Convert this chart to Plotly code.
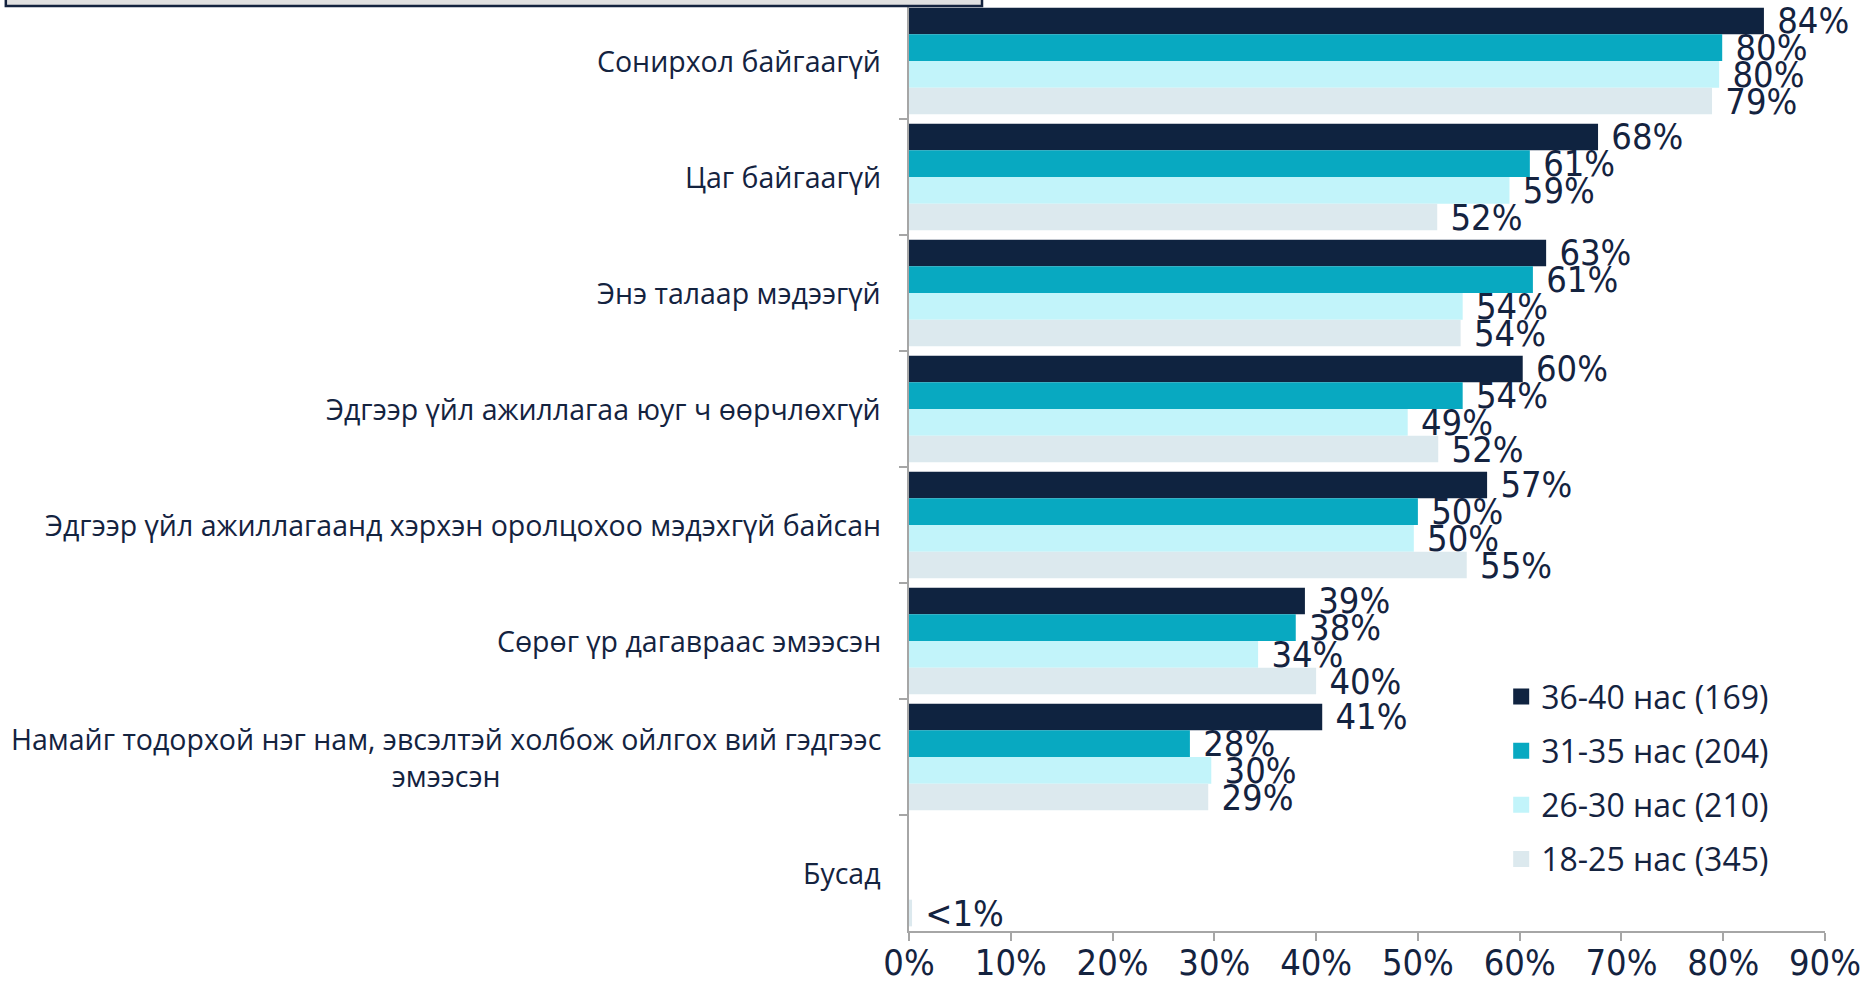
import plotly.graph_objects as go

# ---------- data ----------
categories = [
    "Сонирхол байгаагүй",
    "Цаг байгаагүй",
    "Энэ талаар мэдээгүй",
    "Эдгээр үйл ажиллагаа юуг ч өөрчлөхгүй",
    "Эдгээр үйл ажиллагаанд хэрхэн оролцохоо мэдэхгүй байсан",
    "Сөрөг үр дагавраас эмээсэн",
    "Намайг тодорхой нэг нам, эвсэлтэй холбож ойлгох вий гэдгээс<br>эмээсэн",
    "Бусад",
]
groups = ["36-40 нас (169)", "31-35 нас (204)", "26-30 нас (210)", "18-25 нас (345)"]

age_36_40 = [84.0, 67.7, 62.6, 60.3, 56.8, 38.9, 40.6, None]
age_31_35 = [79.9, 61.0, 61.3, 54.4, 50.0, 38.0, 27.6, None]
age_26_30 = [79.6, 59.0, 54.4, 49.0, 49.6, 34.3, 29.7, None]
age_18_25 = [78.9, 51.9, 54.2, 52.0, 54.8, 40.0, 29.4, 0.3]

x_ticks = [0, 10, 20, 30, 40, 50, 60, 70, 80, 90]
x_ticktext = ["0%", "10%", "20%", "30%", "40%", "50%", "60%", "70%", "80%", "90%"]

colors = ["#0F2340", "#08A9C1", "#C2F4FA", "#DCE9EE"]
txt_col = "#14233F"
axis_col = "#A6A6A6"
NARROW = "DejaVu Sans Condensed, Liberation Sans Narrow, sans-serif"
REG = "Open Sans, Noto Sans, sans-serif"


def etiqueta(v):
    if v is None:
        return ""
    if v < 1:
        return "\u00a0<1%"
    return "\u00a0" + f"{v:.0f}%"


fig = go.Figure()
series = [age_36_40, age_31_35, age_26_30, age_18_25]
for i, (name, vals) in enumerate(zip(groups, series)):
    fig.add_trace(go.Bar(
        y=categories, x=vals, orientation="h", name=name,
        marker=dict(color=colors[i], line=dict(width=0)),
        text=[etiqueta(v) for v in vals], textposition="outside",
        textfont=dict(family=NARROW, size=36, color=txt_col),
        constraintext="none", cliponaxis=False, showlegend=False,
    ))
    # legend swatch (bigger square than the bar default)
    fig.add_trace(go.Scatter(
        x=[None], y=[None], mode="markers", name=name, legendgroup=name,
        marker=dict(symbol="square", size=16, color=colors[i]),
    ))

# category labels, centred lines like the original
for c in categories:
    fig.add_annotation(
        x=0, xref="paper", y=c, yref="y", text=c, showarrow=False,
        xanchor="right", yanchor="middle", xshift=-26, align="center",
        font=dict(family=REG, size=28.5, color=txt_col),
    )

# the cut-off box at the top left
fig.add_shape(type="rect", xref="paper", yref="paper",
              x0=-0.986, x1=0.0797, y0=0.9968, y1=1.05,
              line=dict(color=txt_col, width=2.5), fillcolor="#E1E1E1")

fig.update_layout(
    width=1864, height=983, autosize=False,
    margin=dict(l=909, r=39, t=3, b=52),
    paper_bgcolor="white", plot_bgcolor="white",
    barmode="group", bargap=0.08, bargroupgap=0,
    legend=dict(x=0.6465, y=0.282, xanchor="left", yanchor="top",
                font=dict(family=REG, size=32, color=txt_col),
                bgcolor="rgba(0,0,0,0)", tracegroupgap=9.5,
                traceorder="grouped"),
)
fig.update_yaxes(type="category", autorange="reversed", showticklabels=False,
                 showline=True, linecolor=axis_col, linewidth=1.5,
                 ticks="outside", tickson="boundaries", ticklen=8,
                 tickcolor=axis_col, tickwidth=1.5, showgrid=False,
                 automargin=False)
fig.update_xaxes(range=[0, 90], tickvals=x_ticks, ticktext=x_ticktext,
                 showline=True, linecolor=axis_col, linewidth=1.5,
                 ticks="outside", ticklen=8, tickcolor=axis_col, tickwidth=1.5,
                 showgrid=False, zeroline=False, automargin=False,
                 ticklabelstandoff=-9,
                 tickfont=dict(family=NARROW, size=36, color=txt_col))

fig.write_html("out.html", config={"displayModeBar": False},
               post_script="document.body.style.margin='0';")
